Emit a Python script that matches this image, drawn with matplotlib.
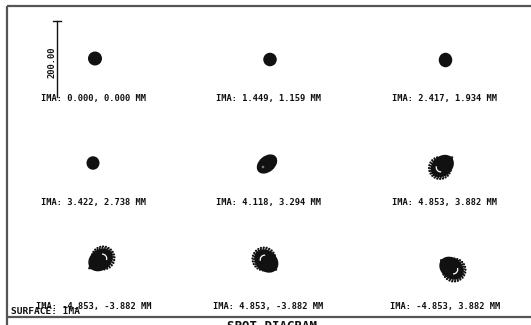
import numpy as np
import matplotlib
matplotlib.use("Agg")
import matplotlib.pyplot as plt
from matplotlib.patches import Circle, Ellipse, Arc, Polygon

# Field points on the image surface (mm)
field_x = [0.000, 1.449, 2.417, 3.422, 4.118, 4.853, -4.853, 4.853, -4.853]
field_y = [0.000, 1.159, 1.934, 2.738, 3.294, 3.882, -3.882, -3.882, 3.882]
scale_bar_um = 200.00
surface_name = "IMA"
title = "SPOT DIAGRAM"

# Spot appearance per field: kind, centroid offset in its cell, size, tip angle
spot_kind = ["round", "round", "round", "round", "leaf", "comet", "comet", "comet", "comet"]
spot_dx = [1.5, 1.5, 0.5, -0.5, -1.5, -5.0, 9.5, -4.5, 9.0]
spot_dy = [0.5, 1.5, 2.0, 1.0, 2.0, 6.0, -8.0, -7.0, 4.0]
spot_w = [14.0, 13.5, 13.5, 13.0, 23.0, 11.0, 11.5, 11.5, 11.5]
spot_h = [14.0, 13.5, 14.5, 13.5, 16.0, 11.0, 11.5, 11.5, 11.5]
spot_angle = [0, 0, 0, 0, -40, -41, 143, 41, -143]
spot_tail = [0, 0, 0, 0, 0, 17, 18, 17, 17]

# Page layout (plot units = pixels)
W, H = 531, 325
col_x = [93.5, 268.5, 445.0]
row_y = [99.0, 203.0, 307.0]
spot_rise = 41.0
ink = "#111111"
frame = "#555555"

fig = plt.figure(figsize=(W / 100, H / 100), dpi=100)
fig.patch.set_facecolor("white")
ax = fig.add_axes([0, 0, 1, 1])
ax.set_xlim(0, W)
ax.set_ylim(H, 0)
ax.set_axis_off()

mono = "DejaVu Sans Mono"
txt = dict(family=mono, color=ink, fontweight="bold")

# frame
ax.plot([7, W], [6, 6], color=frame, lw=1.6, solid_capstyle="butt")
ax.plot([7, 7], [6, H], color=frame, lw=1.6, solid_capstyle="butt")
ax.plot([7, W], [316.5, 316.5], color=frame, lw=1.6, solid_capstyle="butt")


def rot(v, a):
    return np.array([v[0] * np.cos(a) - v[1] * np.sin(a),
                     v[0] * np.sin(a) + v[1] * np.cos(a)])


def comet(c, R, ang, L):
    u = np.array([np.cos(np.radians(ang)), np.sin(np.radians(ang))])
    back = ang + 180
    # outer ring of rays on the flare side
    ax.add_patch(Arc(c, 2 * R, 2 * R, theta1=back - 125, theta2=back + 125,
                     ec=ink, lw=1.6, ls=(0, (0.05, 1.25)), capstyle="round"))
    ax.add_patch(Arc(c, 2 * R - 2.6, 2 * R - 2.6, theta1=back - 110, theta2=back + 110,
                     ec=ink, lw=1.3, ls=(0.6, (0.05, 1.4)), capstyle="round"))
    # dense egg-shaped body running out to the tip
    bc = c + 3.0 * u
    ax.add_patch(Ellipse(bc, 2 * R + 3.5, 2 * R - 2.2, angle=ang, fc=ink, ec="none"))
    tip = c + L * u
    rb = R - 3.0
    base = c + 7.0 * u
    p1 = base + rb * rot(u, np.pi / 2)
    p2 = base + rb * rot(u, -np.pi / 2)
    ax.add_patch(Polygon([tip, p1, p2], closed=True, fc=ink, ec=ink, lw=0.6,
                         joinstyle="round"))
    # inner gap crescent
    cc = c + 1.0 * u
    ax.add_patch(Arc(cc, 9.0, 9.0, theta1=back - 55, theta2=back + 55,
                     color="white", lw=0.9))


for i, (fx, fy) in enumerate(zip(field_x, field_y)):
    r, k = divmod(i, 3)
    lx, ly = col_x[k], row_y[r]
    cx, cy = lx + spot_dx[i], ly - spot_rise + spot_dy[i]
    kind = spot_kind[i]
    if kind == "round":
        ax.add_patch(Ellipse((cx, cy), spot_w[i], spot_h[i], fc=ink, ec="none"))
    elif kind == "leaf":
        ax.add_patch(Ellipse((cx, cy), spot_w[i], spot_h[i], angle=spot_angle[i],
                             fc=ink, ec="none"))
        ax.add_patch(Circle((cx - 4, cy + 3), 1.3, fc="#777777", ec="none"))
    else:
        comet(np.array([cx, cy]), spot_w[i], spot_angle[i], spot_tail[i])
    ax.text(lx, ly, f"IMA: {fx:.3f}, {fy:.3f} MM", fontsize=6.3,
            ha="center", va="center", **txt)

# scale bar
bar_top, bar_bot = 21, 97
ax.plot([57, 57], [bar_top, bar_bot], color=ink, lw=1.0)
ax.plot([53, 61], [bar_top, bar_top], color=ink, lw=1.0)
ax.text(52, 62, f"{scale_bar_um:.2f}", fontsize=6.3, rotation=90,
        ha="center", va="center", **txt)

ax.text(11, 311, f"SURFACE: {surface_name}", fontsize=6.8,
        ha="left", va="center", **txt)
ax.text(272, 319.5, title, fontsize=9, ha="center", va="top", **txt)

fig.savefig("out.png", dpi=100, facecolor="white")
